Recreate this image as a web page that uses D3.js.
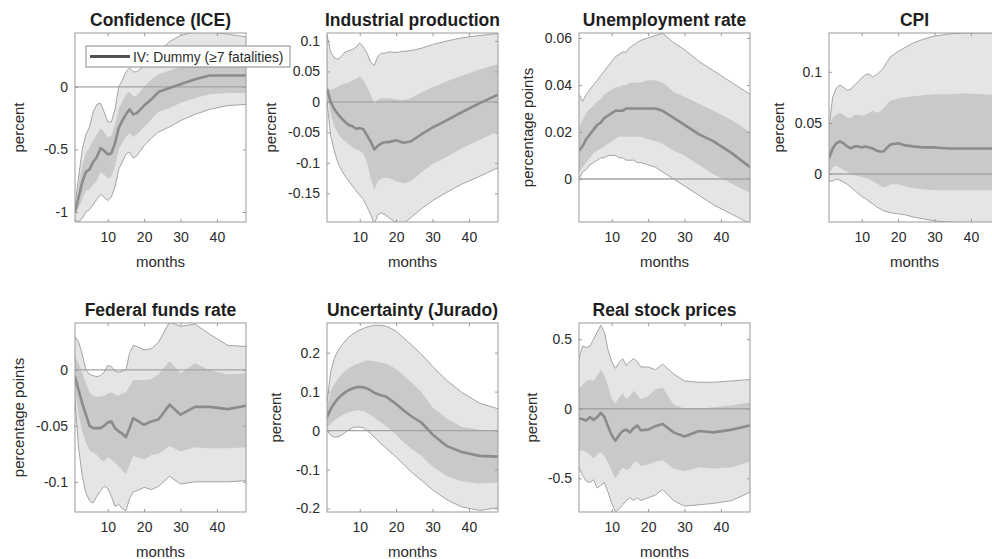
<!DOCTYPE html>
<html>
<head>
<meta charset="utf-8">
<script src="https://cdn.jsdelivr.net/npm/d3@7/dist/d3.min.js"></script>
<style>
  body { margin: 0; background: #fff; }
  svg { display: block; font-family: "Liberation Sans", Arial, sans-serif; }
</style>
</head>
<body>
<svg id="chart" width="992" height="559"></svg>
<script>
// Horizon (months after the shock) at which the responses are recorded
const months = [1,2,3,4,5,6,7,8,9,10,11,12,13,14,15,16,17,18,20,22,24,27,30,34,38,43,48];
const xTicks = [10, 20, 30, 40];

const titles  = ["Confidence (ICE)", "Industrial production", "Unemployment rate", "CPI",
                 "Federal funds rate", "Uncertainty (Jurado)", "Real stock prices"];
const yLabels = ["percent", "percent", "percentage points", "percent",
                 "percentage points", "percent", "percent"];
const yDomains = [[-1.08, 0.43], [-0.197, 0.113], [-0.0183, 0.0621], [-0.047, 0.138],
                  [-0.127, 0.042], [-0.209, 0.276], [-0.742, 0.616]];
const yTicks = [[-1, -0.5, 0], [-0.15, -0.1, -0.05, 0, 0.05, 0.1], [0, 0.02, 0.04, 0.06],
                [0, 0.05, 0.1], [-0.1, -0.05, 0], [-0.2, -0.1, 0, 0.1, 0.2], [-0.5, 0, 0.5]];

const legendLabel = "IV: Dummy (\u22657 fatalities)";

// Confidence (ICE)
const confMedian  = [-1.0,-0.88,-0.76,-0.68,-0.66,-0.6,-0.56,-0.49,-0.51,-0.54,-0.53,-0.45,-0.33,-0.27,-0.22,-0.18,-0.22,-0.21,-0.15,-0.1,-0.04,-0.01,0.02,0.06,0.09,0.09,0.09];
const confInnerHi = [-0.98,-0.78,-0.62,-0.53,-0.48,-0.43,-0.38,-0.33,-0.36,-0.4,-0.39,-0.3,-0.18,-0.12,-0.06,-0.04,-0.08,-0.07,0.0,0.06,0.1,0.13,0.16,0.19,0.21,0.2,0.19];
const confInnerLo = [-1.02,-0.97,-0.9,-0.83,-0.82,-0.78,-0.75,-0.68,-0.7,-0.73,-0.72,-0.63,-0.5,-0.45,-0.4,-0.37,-0.4,-0.38,-0.32,-0.26,-0.2,-0.17,-0.13,-0.09,-0.06,-0.05,-0.05];
const confOuterHi = [-0.95,-0.72,-0.5,-0.38,-0.32,-0.2,-0.14,-0.13,-0.2,-0.28,-0.28,-0.18,0.0,0.05,0.12,0.15,0.12,0.12,0.17,0.22,0.28,0.36,0.41,0.44,0.44,0.42,0.40];
const confOuterLo = [-1.06,-1.08,-1.05,-1.0,-0.98,-0.94,-0.9,-0.86,-0.88,-0.91,-0.88,-0.8,-0.66,-0.6,-0.54,-0.52,-0.57,-0.55,-0.47,-0.41,-0.36,-0.32,-0.27,-0.22,-0.18,-0.15,-0.14];

// Industrial production
const ipMedian  = [0.021,0.0,-0.012,-0.02,-0.027,-0.033,-0.038,-0.04,-0.044,-0.043,-0.045,-0.055,-0.065,-0.078,-0.072,-0.068,-0.066,-0.066,-0.063,-0.067,-0.065,-0.053,-0.042,-0.03,-0.017,-0.002,0.012];
const ipInnerHi = [0.025,0.02,0.022,0.025,0.028,0.03,0.032,0.035,0.038,0.042,0.036,0.025,0.012,-0.004,0.004,0.006,0.006,0.006,0.004,0.003,0.006,0.016,0.024,0.034,0.043,0.053,0.062];
const ipInnerLo = [0.018,-0.02,-0.04,-0.052,-0.06,-0.065,-0.07,-0.075,-0.078,-0.08,-0.085,-0.1,-0.125,-0.144,-0.13,-0.126,-0.125,-0.125,-0.13,-0.134,-0.13,-0.115,-0.102,-0.09,-0.076,-0.062,-0.048];
const ipOuterHi = [0.11,0.082,0.072,0.07,0.075,0.082,0.084,0.086,0.09,0.097,0.09,0.08,0.065,0.06,0.075,0.08,0.08,0.082,0.081,0.083,0.084,0.088,0.094,0.1,0.105,0.109,0.112];
const ipOuterLo = [0.0,-0.055,-0.08,-0.1,-0.112,-0.122,-0.13,-0.138,-0.146,-0.153,-0.16,-0.172,-0.185,-0.2,-0.185,-0.182,-0.185,-0.19,-0.198,-0.2,-0.19,-0.175,-0.162,-0.148,-0.135,-0.122,-0.108];

// Unemployment rate
const urMedian  = [0.012,0.014,0.017,0.019,0.021,0.023,0.024,0.026,0.027,0.028,0.029,0.029,0.029,0.03,0.03,0.03,0.03,0.03,0.03,0.03,0.029,0.026,0.023,0.019,0.016,0.011,0.005];
const urInnerHi = [0.022,0.025,0.028,0.03,0.031,0.033,0.034,0.036,0.037,0.038,0.039,0.039,0.04,0.04,0.041,0.041,0.041,0.041,0.042,0.042,0.041,0.037,0.035,0.032,0.029,0.025,0.02];
const urInnerLo = [0.003,0.005,0.007,0.009,0.011,0.012,0.013,0.014,0.015,0.016,0.017,0.018,0.018,0.018,0.018,0.018,0.018,0.018,0.017,0.016,0.015,0.012,0.01,0.006,0.002,-0.002,-0.006];
const urOuterHi = [0.036,0.033,0.036,0.038,0.04,0.042,0.044,0.046,0.048,0.05,0.052,0.053,0.054,0.054,0.056,0.057,0.058,0.059,0.06,0.061,0.062,0.058,0.055,0.05,0.046,0.041,0.036];
const urOuterLo = [0.0,0.003,0.004,0.006,0.007,0.008,0.009,0.009,0.01,0.01,0.01,0.009,0.009,0.008,0.008,0.008,0.007,0.007,0.006,0.005,0.003,0.0,-0.003,-0.007,-0.011,-0.015,-0.019];

// CPI
const cpiMedian  = [0.015,0.025,0.03,0.032,0.03,0.027,0.025,0.027,0.027,0.026,0.027,0.026,0.025,0.023,0.022,0.022,0.026,0.029,0.03,0.028,0.027,0.026,0.026,0.025,0.025,0.025,0.025];
const cpiInnerHi = [0.048,0.055,0.058,0.06,0.058,0.055,0.055,0.058,0.058,0.057,0.058,0.06,0.062,0.06,0.061,0.064,0.069,0.072,0.074,0.075,0.076,0.077,0.078,0.078,0.079,0.078,0.077];
const cpiInnerLo = [0.0,0.006,0.008,0.006,0.004,0.002,0.0,-0.001,-0.002,-0.003,-0.004,-0.005,-0.007,-0.009,-0.011,-0.013,-0.012,-0.01,-0.01,-0.012,-0.014,-0.015,-0.016,-0.016,-0.016,-0.016,-0.016];
const cpiOuterHi = [0.045,0.075,0.084,0.087,0.085,0.082,0.083,0.087,0.09,0.094,0.097,0.098,0.095,0.097,0.1,0.104,0.11,0.115,0.12,0.124,0.128,0.132,0.135,0.137,0.138,0.138,0.138];
const cpiOuterLo = [-0.007,-0.007,-0.005,-0.006,-0.008,-0.01,-0.013,-0.016,-0.019,-0.022,-0.024,-0.027,-0.029,-0.032,-0.034,-0.036,-0.037,-0.038,-0.039,-0.04,-0.042,-0.044,-0.046,-0.047,-0.048,-0.048,-0.048];

// Federal funds rate
const ffrMedian  = [-0.006,-0.018,-0.03,-0.04,-0.05,-0.052,-0.052,-0.052,-0.05,-0.047,-0.046,-0.052,-0.055,-0.057,-0.06,-0.052,-0.043,-0.045,-0.049,-0.046,-0.044,-0.031,-0.04,-0.033,-0.033,-0.035,-0.032];
const ffrInnerHi = [0.012,0.006,-0.003,-0.012,-0.02,-0.023,-0.024,-0.024,-0.023,-0.021,-0.02,-0.022,-0.023,-0.021,-0.02,-0.015,-0.009,-0.009,-0.009,-0.008,-0.004,0.008,-0.003,0.006,0.0,-0.004,-0.003];
const ffrInnerLo = [-0.018,-0.04,-0.055,-0.065,-0.072,-0.074,-0.076,-0.08,-0.082,-0.078,-0.08,-0.083,-0.086,-0.09,-0.093,-0.085,-0.077,-0.078,-0.08,-0.076,-0.075,-0.068,-0.073,-0.069,-0.07,-0.07,-0.069];
const ffrOuterHi = [0.03,0.025,0.014,0.0,-0.004,-0.005,-0.006,-0.005,-0.002,0.004,0.003,-0.001,-0.002,-0.001,0.0,0.015,0.022,0.021,0.018,0.019,0.025,0.043,0.039,0.041,0.032,0.022,0.021];
const ffrOuterLo = [-0.027,-0.07,-0.095,-0.11,-0.117,-0.119,-0.113,-0.108,-0.104,-0.106,-0.113,-0.122,-0.12,-0.124,-0.126,-0.115,-0.109,-0.108,-0.105,-0.107,-0.104,-0.095,-0.102,-0.1,-0.1,-0.1,-0.099];

// Uncertainty (Jurado)
const uncMedian  = [0.034,0.055,0.07,0.082,0.091,0.098,0.104,0.108,0.111,0.112,0.111,0.108,0.103,0.097,0.093,0.09,0.088,0.082,0.068,0.052,0.038,0.02,-0.01,-0.04,-0.055,-0.065,-0.067];
const uncInnerHi = [0.06,0.1,0.12,0.133,0.145,0.153,0.16,0.165,0.17,0.173,0.177,0.18,0.18,0.178,0.176,0.174,0.172,0.168,0.158,0.142,0.125,0.098,0.06,0.03,0.01,0.002,0.0];
const uncInnerLo = [0.008,0.016,0.025,0.032,0.038,0.043,0.047,0.05,0.052,0.052,0.05,0.045,0.04,0.033,0.026,0.02,0.013,0.006,-0.01,-0.03,-0.045,-0.065,-0.092,-0.117,-0.13,-0.136,-0.133];
const uncOuterHi = [0.07,0.15,0.185,0.205,0.218,0.23,0.24,0.247,0.253,0.258,0.262,0.266,0.268,0.27,0.27,0.27,0.268,0.265,0.255,0.238,0.222,0.195,0.165,0.128,0.098,0.07,0.056];
const uncOuterLo = [0.0,-0.012,-0.017,-0.016,-0.012,-0.005,0.002,0.007,0.009,0.009,0.007,0.0,-0.008,-0.017,-0.026,-0.035,-0.043,-0.052,-0.068,-0.086,-0.105,-0.128,-0.152,-0.178,-0.196,-0.205,-0.198];

// Real stock prices
const stkMedian  = [-0.07,-0.075,-0.085,-0.06,-0.08,-0.06,-0.03,-0.06,-0.13,-0.19,-0.23,-0.19,-0.16,-0.15,-0.17,-0.14,-0.12,-0.155,-0.15,-0.125,-0.11,-0.17,-0.2,-0.16,-0.17,-0.15,-0.12];
const stkInnerHi = [0.15,0.17,0.2,0.21,0.2,0.24,0.28,0.24,0.16,0.07,0.04,0.08,0.11,0.07,0.09,0.13,0.1,0.07,0.09,0.14,0.15,0.03,0.0,0.0,0.01,0.025,0.045];
const stkInnerLo = [-0.3,-0.3,-0.31,-0.33,-0.36,-0.33,-0.31,-0.34,-0.39,-0.45,-0.5,-0.46,-0.42,-0.44,-0.43,-0.39,-0.38,-0.41,-0.4,-0.38,-0.37,-0.43,-0.45,-0.42,-0.43,-0.42,-0.38];
const stkOuterHi = [0.36,0.45,0.44,0.45,0.5,0.55,0.6,0.55,0.42,0.34,0.29,0.33,0.36,0.31,0.34,0.36,0.34,0.3,0.3,0.28,0.32,0.25,0.2,0.19,0.19,0.2,0.21];
const stkOuterLo = [-0.42,-0.48,-0.52,-0.53,-0.51,-0.57,-0.55,-0.53,-0.6,-0.68,-0.74,-0.72,-0.69,-0.66,-0.64,-0.66,-0.64,-0.66,-0.64,-0.62,-0.58,-0.66,-0.7,-0.69,-0.68,-0.66,-0.6];

const medians  = [confMedian, ipMedian, urMedian, cpiMedian, ffrMedian, uncMedian, stkMedian];
const innerHis = [confInnerHi, ipInnerHi, urInnerHi, cpiInnerHi, ffrInnerHi, uncInnerHi, stkInnerHi];
const innerLos = [confInnerLo, ipInnerLo, urInnerLo, cpiInnerLo, ffrInnerLo, uncInnerLo, stkInnerLo];
const outerHis = [confOuterHi, ipOuterHi, urOuterHi, cpiOuterHi, ffrOuterHi, uncOuterHi, stkOuterHi];
const outerLos = [confOuterLo, ipOuterLo, urOuterLo, cpiOuterLo, ffrOuterLo, uncOuterLo, stkOuterLo];

// ---- layout and style ----
const colLeft = [75, 327, 579, 829];
const rowTop = [33, 323];
const plotW = 171, plotH = 189;
const yLabelOffset = [56, 56, 51, 50, 56, 51, 47];

const outerFill = "#e5e5e5", outerEdge = "#a4a4a4";
const innerFill = "#c9c9c9";
const medianColor = "#8b8b8b";
const zeroColor = "#a3a3a3";
const boxColor = "#9a9a9a";
const textColor = "#2b2b2b";

const svg = d3.select("#chart");
const defs = svg.append("defs");

titles.forEach((title, i) => {
  const r = i < 4 ? 0 : 1;
  const c = i < 4 ? i : i - 4;
  const x0 = colLeft[c], y0 = rowTop[r];

  const x = d3.scaleLinear().domain([1, 48]).range([x0, x0 + plotW]);
  const y = d3.scaleLinear().domain(yDomains[i]).range([y0 + plotH, y0]);

  const rows = months.map((m, k) => ({
    m, med: medians[i][k], ihi: innerHis[i][k], ilo: innerLos[i][k],
    ohi: outerHis[i][k], olo: outerLos[i][k]
  }));

  const clipId = "plot-clip-" + i;
  defs.append("clipPath").attr("id", clipId)
    .append("rect").attr("x", x0).attr("y", y0).attr("width", plotW).attr("height", plotH);

  const g = svg.append("g");
  const pg = g.append("g").attr("clip-path", `url(#${clipId})`);

  // 90% band
  pg.append("path").datum(rows)
    .attr("d", d3.area().x(d => x(d.m)).y0(d => y(d.olo)).y1(d => y(d.ohi)))
    .attr("fill", outerFill);
  ["ohi", "olo"].forEach(key => {
    pg.append("path").datum(rows)
      .attr("d", d3.line().x(d => x(d.m)).y(d => y(d[key])))
      .attr("fill", "none").attr("stroke", outerEdge).attr("stroke-width", 1);
  });

  // 68% band
  pg.append("path").datum(rows)
    .attr("d", d3.area().x(d => x(d.m)).y0(d => y(d.ilo)).y1(d => y(d.ihi)))
    .attr("fill", innerFill);

  // zero reference line
  pg.append("line")
    .attr("x1", x(1)).attr("x2", x(48)).attr("y1", y(0)).attr("y2", y(0))
    .attr("stroke", zeroColor).attr("stroke-width", 1.3);

  // median response
  pg.append("path").datum(rows)
    .attr("d", d3.line().x(d => x(d.m)).y(d => y(d.med)))
    .attr("fill", "none").attr("stroke", medianColor).attr("stroke-width", 2.6)
    .attr("stroke-linejoin", "round");

  // axes with inward ticks on all four sides
  const styleAxis = sel => {
    sel.select(".domain").remove();
    sel.selectAll(".tick line").attr("stroke", boxColor);
    sel.selectAll(".tick text").attr("fill", textColor)
      .style("font-family", '"Liberation Sans", Arial, sans-serif').style("font-size", "14px");
    sel.attr("font-size", null).attr("font-family", null);
  };

  g.append("g").attr("transform", `translate(0,${y0 + plotH})`)
    .call(d3.axisBottom(x).tickValues(xTicks).tickSizeInner(-3).tickSizeOuter(0).tickPadding(10))
    .call(styleAxis);
  g.append("g").attr("transform", `translate(0,${y0})`)
    .call(d3.axisTop(x).tickValues(xTicks).tickSizeInner(-3).tickSizeOuter(0).tickFormat(""))
    .call(styleAxis);
  g.append("g").attr("transform", `translate(${x0},0)`)
    .call(d3.axisLeft(y).tickValues(yTicks[i]).tickSizeInner(-3).tickSizeOuter(0).tickPadding(7)
      .tickFormat(v => String(v)))
    .call(styleAxis);
  g.append("g").attr("transform", `translate(${x0 + plotW},0)`)
    .call(d3.axisRight(y).tickValues(yTicks[i]).tickSizeInner(-3).tickSizeOuter(0).tickFormat(""))
    .call(styleAxis);

  // frame
  g.append("rect").attr("x", x0).attr("y", y0).attr("width", plotW).attr("height", plotH)
    .attr("fill", "none").attr("stroke", boxColor).attr("stroke-width", 1);

  // title and axis labels
  g.append("text").attr("x", x0 + plotW / 2).attr("y", y0 - 7)
    .attr("text-anchor", "middle").attr("font-weight", "bold").attr("font-size", 17.5)
    .attr("fill", "#1e1e1e").text(title);
  g.append("text").attr("x", x0 + plotW / 2).attr("y", y0 + plotH + 45)
    .attr("text-anchor", "middle").attr("font-size", 15).attr("fill", textColor).text("months");
  g.append("text")
    .attr("transform", `translate(${x0 - yLabelOffset[i]},${y0 + plotH / 2}) rotate(-90)`)
    .attr("text-anchor", "middle").attr("dy", "0.35em")
    .attr("font-size", 15).attr("fill", textColor).text(yLabels[i]);
});

// legend (drawn last so it sits above the neighbouring panel)
const lg = svg.append("g");
lg.append("rect").attr("x", 86).attr("y", 46).attr("width", 204).attr("height", 21)
  .attr("fill", "#fff").attr("stroke", "#8a8a8a").attr("stroke-width", 1);
lg.append("line").attr("x1", 90).attr("x2", 130).attr("y1", 56.5).attr("y2", 56.5)
  .attr("stroke", "#505050").attr("stroke-width", 3);
lg.append("text").attr("x", 133).attr("y", 61.5).attr("font-size", 13.8)
  .attr("fill", textColor).text(legendLabel);
</script>
</body>
</html>
